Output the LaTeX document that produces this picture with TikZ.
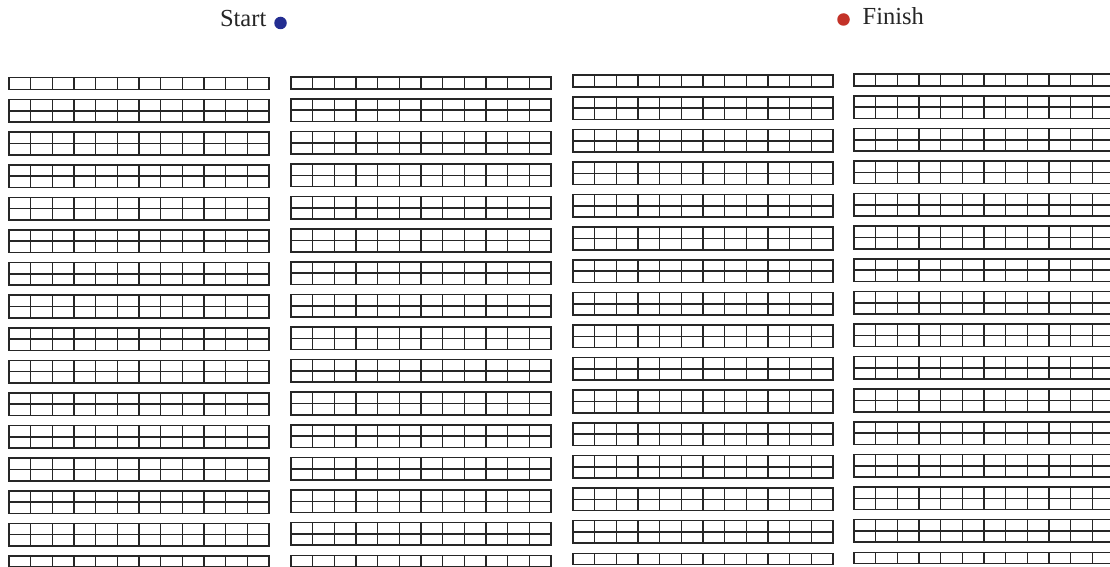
\documentclass[tikz,border=0pt]{standalone}
\usepackage{fontspec}
\setmainfont{Liberation Serif}
\definecolor{rackline}{RGB}{38,38,38}
\definecolor{startblue}{RGB}{35,45,145}
\definecolor{finishred}{RGB}{195,50,40}
\tikzset{
  rack/.style={draw=rackline, line width=1.6pt},
  lbl/.style={font=\fontsize{24.5}{28}\selectfont, text=black!85, inner sep=0pt},
  dotmark/.style={circle, inner sep=0pt, minimum size=12.5pt}
}
\begin{document}
\begin{tikzpicture}[x=1pt,y=-1pt]
\useasboundingbox (0,0) rectangle (1110,567);
\clip (0,0) rectangle (1110,567);
\fill[white] (0,0) rectangle (1110,567);
% labels
\node[lbl, anchor=base east] (start) at (266.5,26.5) {Start};
\node[dotmark, fill=startblue] (startdot) at (280.5,23) {};
\node[dotmark, fill=finishred] (finishdot) at (843.5,19.5) {};
\node[lbl, anchor=base west] (finish) at (862.5,24.5) {Finish};
% racks
\def\cw{21.6667}
\foreach \bx/\dy in {9/0, 291/-0.7, 573/-2.7, 854/-3.7} {
  % top single row
  \draw[rack] (\bx,77.5+\dy) rectangle (\bx+260,89.5+\dy);
  \foreach \i in {1,...,11}
    \draw[rack] (\bx+\i*\cw,77.5+\dy) -- (\bx+\i*\cw,89.5+\dy);
  % double rows
  \foreach \k in {0,...,13} {
    \pgfmathsetmacro{\ty}{99.5+32.6*\k+\dy}
    \draw[rack] (\bx,\ty) rectangle (\bx+260,\ty+22.6);
    \draw[rack] (\bx,\ty+11.3) -- (\bx+260,\ty+11.3);
    \foreach \i in {1,...,11}
      \draw[rack] (\bx+\i*\cw,\ty) -- (\bx+\i*\cw,\ty+22.6);
  }
  % bottom single row
  \draw[rack] (\bx,556+\dy) rectangle (\bx+260,567+\dy);
  \foreach \i in {1,...,11}
    \draw[rack] (\bx+\i*\cw,556+\dy) -- (\bx+\i*\cw,567+\dy);
}
\end{tikzpicture}
\end{document}
